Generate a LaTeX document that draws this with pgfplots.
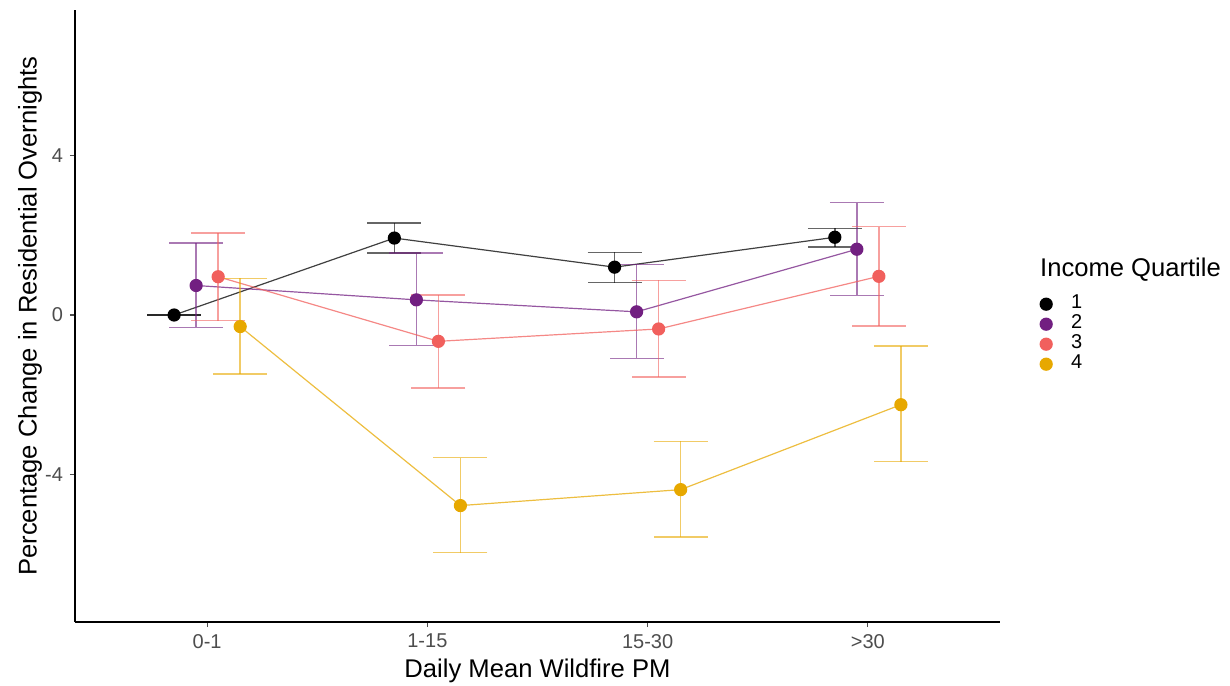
\documentclass[border=0pt]{standalone}
\usepackage{fontspec}
\setmainfont{Liberation Sans}
\usepackage{pgfplots}
\usepackage{pgfplotstable}
\pgfplotsset{compat=1.18}
\definecolor{q1}{RGB}{0,0,0}
\definecolor{q2}{RGB}{114,31,129}
\definecolor{q3}{RGB}{241,96,93}
\definecolor{q4}{RGB}{231,168,0}
\definecolor{tickgray}{RGB}{77,77,77}

\pgfplotstableread{
x y ep em
0.85 0.00 0.00 0.00
1.85 1.93 0.38 0.37
2.85 1.20 0.37 0.39
3.85 1.95 0.22 0.24
}\qone
\pgfplotstableread{
x y ep em
0.95 0.74 1.07 1.05
1.95 0.38 1.17 1.14
2.95 0.08 1.19 1.17
3.95 1.65 1.17 1.16
}\qtwo
\pgfplotstableread{
x y ep em
1.05 0.96 1.10 1.10
2.05 -0.66 1.16 1.17
3.05 -0.35 1.22 1.20
4.05 0.97 1.25 1.24
}\qthree
\pgfplotstableread{
x y ep em
1.15 -0.29 1.21 1.19
2.15 -4.78 1.20 1.18
3.15 -4.38 1.21 1.19
4.15 -2.25 1.47 1.43
}\qfour

\begin{document}
\begin{tikzpicture}
\path[use as bounding box] (-37.5pt,-31.5pt) rectangle (577.5pt,311pt);
\begin{axis}[
  scale only axis, width=462.5pt, height=306pt,
  xmin=0.4, xmax=4.6, ymin=-7.7, ymax=7.65,
  axis x line*=bottom, axis y line*=left,
  axis line style={-, line width=0.8pt, black},
  xtick={1,2,3,4}, xticklabels={0-1,1-15,15-30,>30},
  ytick={-4,0,4},
  /pgf/number format/assume math mode=true,
  tick style={tickgray, line width=0.6pt}, tick align=outside,
  major tick length=2.5pt,
  ticklabel style={font=\fontsize{10}{12}\selectfont, text=tickgray},
  xlabel={Daily Mean Wildfire PM},
  ylabel={Percentage Change in Residential Overnights},
  label style={font=\fontsize{12.8}{15}\selectfont},
  xlabel style={at={(axis description cs:0.5,-0.08)}, anchor=center},
  ylabel style={at={(axis description cs:-0.0486,0.5)}, anchor=center},
  legend image code/.code={\draw[mark=*, mark size=3pt, mark options={opacity=1}] plot coordinates {(0cm,0cm)};},
  legend cell align=left,
  legend style={at={(rel axis cs:1.043,0.569)}, anchor=north west, draw=none, fill=none,
    font=\fontsize{10}{12}\selectfont, row sep=0pt, inner sep=0pt,
    nodes={inner ysep=1pt, text height=6.4pt, text depth=1.6pt},
    /tikz/every odd column/.append style={column sep=7.5pt}},
  every axis plot/.append style={line width=0.6pt, draw opacity=0.75,
    mark=*, mark size=3pt, mark options={draw opacity=1, fill opacity=1},
    error bars/y dir=both, error bars/y explicit,
    error bars/error mark=|,
    error bars/error bar style={line width=0.75pt, draw opacity=0.6},
    error bars/error mark options={mark size=13.5pt, line width=0.75pt, draw opacity=0.6}},
]
\addlegendimage{empty legend}
\addlegendentry{\hspace{-15.5pt}\raisebox{6pt}{\fontsize{12.8}{15}\selectfont Income Quartile}}
\addplot[q1] table[x=x, y=y, y error plus=ep, y error minus=em] {\qone};
\addlegendentry{1}
\addplot[q2] table[x=x, y=y, y error plus=ep, y error minus=em] {\qtwo};
\addlegendentry{2}
\addplot[q3] table[x=x, y=y, y error plus=ep, y error minus=em] {\qthree};
\addlegendentry{3}
\addplot[q4] table[x=x, y=y, y error plus=ep, y error minus=em] {\qfour};
\addlegendentry{4}
\end{axis}
\end{tikzpicture}
\end{document}
